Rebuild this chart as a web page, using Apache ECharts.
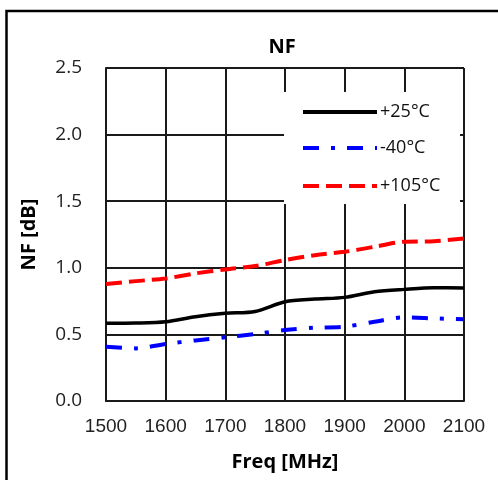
<!DOCTYPE html>
<html>
<head>
<meta charset="utf-8">
<script src="https://cdn.jsdelivr.net/npm/echarts@6/dist/echarts.min.js"></script>
<style>html,body{margin:0;padding:0;background:#fff;}#c{width:498px;height:480px;}</style>
</head>
<body>
<div id="c"></div>
<script>
var freq = [1500,1550,1600,1650,1700,1750,1800,1850,1900,1950,2000,2050,2100];
var nf25 = [0.583,0.585,0.595,0.633,0.658,0.672,0.745,0.765,0.778,0.820,0.838,0.850,0.848];
var nfm40 = [0.408,0.395,0.428,0.455,0.478,0.503,0.533,0.550,0.558,0.595,0.628,0.620,0.613];
var nf105 = [0.878,0.900,0.920,0.958,0.988,1.013,1.058,1.095,1.120,1.158,1.196,1.200,1.220];
var seriesNames = ['+25°C','-40°C','+105°C'];
var seriesColors = ['#000000','#0000ff','#ff0000'];
var yTicks = ['0.0','0.5','1.0','1.5','2.0','2.5'];
var xTicks = ['1500','1600','1700','1800','1900','2000','2100'];

function pairs(xs, ys){ return xs.map(function(x,i){ return [x, ys[i]]; }); }

var chart = echarts.init(document.getElementById('c'), null, {renderer:'canvas'});
var F = '"Open Sans", "Liberation Sans", sans-serif';
var FA = '"Liberation Sans", Arial, sans-serif';
var gridColor = '#1a1a1a';
var legendY = [112, 148, 186];
var dashes = [null, [16,12,4,12], [16,7]];

var graphics = [
  {type:'polyline', z:100, shape:{points:[[6.5,480],[6.5,11],[498,11]]}, style:{stroke:'#000', lineWidth:2.5, fill:null}},
  {type:'rect', z:50, shape:{x:284, y:92, width:176, height:112}, style:{fill:'#fff'}}
];
seriesNames.forEach(function(n,i){
  graphics.push({type:'line', z:60, shape:{x1:303, y1:legendY[i], x2:377, y2:legendY[i]},
    style:{stroke:seriesColors[i], lineWidth:4, lineDash:dashes[i]}});
  graphics.push({type:'text', z:60, x:380, y:legendY[i],
    style:{text:n, fill:'#111', font:'18px ' + F, textVerticalAlign:'middle', verticalAlign:'middle'}});
});

var dataSets = [nf25, nfm40, nf105];
var series = dataSets.map(function(d,i){
  return {
    name: seriesNames[i], type:'line', data: pairs(freq, d),
    showSymbol:false, symbol:'none', smooth:0.3, z:10,
    lineStyle:{color:seriesColors[i], width:(i===0?3.5:4), type:(dashes[i]||'solid')},
    itemStyle:{color:seriesColors[i]}
  };
});

chart.setOption({
  animation:false,
  backgroundColor:'#fff',
  title:{text:'NF', left:277, top:32, textAlign:'center',
    textStyle:{fontFamily:F, fontWeight:'bold', fontSize:20, color:'#000'}},
  grid:{left:106, top:68, right:34, bottom:79, containLabel:false},
  xAxis:{type:'value', min:1500, max:2100, interval:100,
    name:'Freq [MHz]', nameLocation:'middle', nameGap:51,
    nameTextStyle:{fontFamily:F, fontWeight:'bold', fontSize:20, color:'#000'},
    axisLine:{show:true, lineStyle:{color:gridColor, width:2}},
    axisTick:{show:false},
    axisLabel:{fontFamily:FA, fontSize:19, color:'#222', margin:16,
      formatter:function(v){ var s=String(Math.round(v)); return xTicks.indexOf(s)>=0 ? s : ''; }},
    splitLine:{show:true, lineStyle:{color:gridColor, width:2}}},
  yAxis:{type:'value', min:0, max:2.5, interval:0.5,
    name:'NF [dB]', nameLocation:'middle', nameGap:67, nameRotate:90,
    nameTextStyle:{fontFamily:F, fontWeight:'bold', fontSize:20, color:'#000'},
    axisLine:{show:true, lineStyle:{color:gridColor, width:2}},
    axisTick:{show:false},
    axisLabel:{fontFamily:F, fontSize:19, color:'#222', margin:24,
      formatter:function(v){ var s=v.toFixed(1); return yTicks.indexOf(s)>=0 ? s : ''; }},
    splitLine:{show:true, lineStyle:{color:gridColor, width:2}}},
  series: series,
  graphic: graphics
});
</script>
</body>
</html>
